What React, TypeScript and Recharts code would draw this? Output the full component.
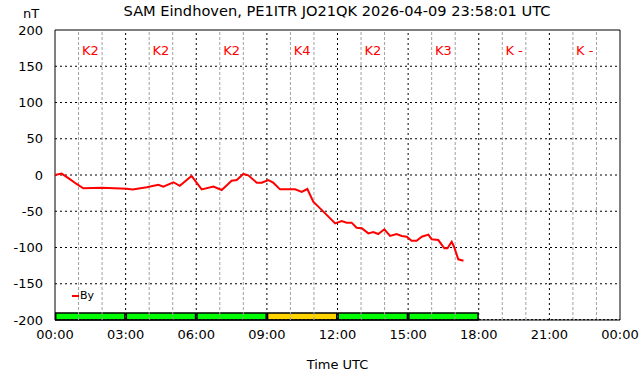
import { ComposedChart, Line, XAxis, YAxis, CartesianGrid, ReferenceLine, ReferenceArea, ReferenceDot } from 'recharts'

const hours = [
  0, 0.28, 0.6, 0.9, 1.2, 2.0, 3.04, 3.3, 3.9, 4.39, 4.6, 5.03, 5.3, 5.8, 6.23, 6.73, 7.08, 7.3, 7.5, 7.72,
  8.0, 8.21, 8.57, 8.78, 9.06, 9.27, 9.56, 9.98, 10.2, 10.48, 10.72, 10.97, 11.26, 11.54, 11.9, 12.18, 12.39,
  12.6, 12.81, 13.03, 13.31, 13.52, 13.73, 13.99, 14.23, 14.51, 14.73, 14.94, 15.15, 15.36, 15.58, 15.86, 16.0,
  16.28, 16.54, 16.67, 16.85, 16.95, 17.13, 17.35,
]
const byValues = [
  0, 2, -5, -12, -18.4, -17.5, -19, -20, -17, -13.4, -16, -10, -15, -1.4, -19.8, -16, -20.7, -14, -7.8, -7,
  1.4, -0.5, -10.6, -10.6, -7, -10.6, -19.8, -19.8, -19.8, -23.4, -19.3, -36.8, -46, -55, -66.7, -63.4, -65.7,
  -65.7, -72.7, -73.5, -80.5, -78.6, -81.4, -74.9, -84.1, -81.4, -84.1, -85.1, -90.6, -90.6, -85.1, -82.3, -88.7,
  -89.7, -101.1, -101.1, -92, -98.9, -116.3, -118.2,
]

// K index per 3 hour block
const kBlockStart = [0, 3, 6, 9, 12, 15, 18, 21]
const kLabels = ['K2', 'K2', 'K2', 'K4', 'K2', 'K3', 'K -', 'K -']
const kValues = [2, 2, 2, 4, 2, 3, null, null]

const xTicks = [0, 3, 6, 9, 12, 15, 18, 21, 24]
const xTickLabels = ['00:00', '03:00', '06:00', '09:00', '12:00', '15:00', '18:00', '21:00', '00:00']
const yTicks = [-200, -150, -100, -50, 0, 50, 100, 150, 200]
const hourLines = Array.from({ length: 23 }, (_, i) => i + 1)

const FONT = '"DejaVu Sans", sans-serif'

const data = hours.map((h, i) => ({ t: h, By: byValues[i] }))

function kColor(k: number) {
  return k >= 4 ? '#ffd400' : '#00ff00'
}

export default function App() {
  return (
    <div style={{ position: 'absolute', left: 0, top: 0, width: 642, height: 376, background: '#fff' }}>
      <div style={{ position: 'absolute', left: 0, width: 674, top: 2, textAlign: 'center', fontFamily: FONT, fontSize: 14.6 }}>
        SAM Eindhoven, PE1ITR JO21QK 2026-04-09 23:58:01 UTC
      </div>
      <div style={{ position: 'absolute', left: 23, top: 6, fontFamily: FONT, fontSize: 13 }}>nT</div>
      <div style={{ position: 'absolute', left: 72, top: 289, display: 'flex', alignItems: 'center', fontFamily: FONT, fontSize: 11, zIndex: 2 }}>
        <span style={{ display: 'inline-block', width: 7, height: 2, background: '#ff0000', marginRight: 1 }} />
        By
      </div>
      <ComposedChart width={642} height={376} data={data} margin={{ top: 30, right: 22, bottom: 0, left: 0 }}>
        <CartesianGrid vertical={false} stroke="#000" strokeDasharray="2 3" horizontalValues={[-150, -100, -50, 0, 50, 100, 150]} />
        {kBlockStart.map((s, i) =>
          kValues[i] === null ? null : (
            <ReferenceArea
              key={'k' + i}
              x1={s + 0.03}
              x2={s + 2.97}
              y1={-200}
              y2={-190.5}
              fill={kColor(kValues[i] as number)}
              fillOpacity={1}
              stroke="#000"
              strokeWidth={1.5}
            />
          ),
        )}
        {hourLines.map((h) => (
          <ReferenceLine
            key={h}
            x={h}
            stroke={h % 3 === 0 ? '#000' : '#a0a0a0'}
            strokeDasharray={h % 3 === 0 ? '2 3' : '3 2'}
          />
        ))}
        <ReferenceLine y={-199.5} stroke="#000" strokeDasharray="2 2" />
        <XAxis
          type="number"
          dataKey="t"
          domain={[0, 24]}
          ticks={xTicks}
          tickFormatter={(v: number) => xTickLabels[xTicks.indexOf(v)]}
          tickLine={false}
          axisLine={false}
          height={56}
          tickMargin={4}
          tick={{ fontSize: 13, fill: '#000', fontFamily: FONT }}
          label={{ value: 'Time UTC', position: 'insideBottom', offset: 7, fontSize: 13, fill: '#000', fontFamily: FONT }}
        />
        <YAxis
          type="number"
          domain={[-200, 200]}
          ticks={yTicks}
          tickLine={false}
          axisLine={false}
          width={55}
          tickMargin={6}
          tick={{ fontSize: 13, fill: '#000', fontFamily: FONT }}
        />
        {kBlockStart.map((s, i) => (
          <ReferenceDot
            key={'kl' + i}
            x={s + 1.5}
            y={172}
            r={0}
            fill="none"
            stroke="none"
            label={{ value: kLabels[i], fill: '#ff0000', fontSize: 13, fontFamily: FONT, position: 'center' }}
          />
        ))}
        <ReferenceArea x1={0} x2={24} y1={-200} y2={200} fill="none" stroke="#000" strokeWidth={1} />
        <Line
          type="linear"
          dataKey="By"
          stroke="#ff0000"
          strokeWidth={2}
          dot={false}
          isAnimationActive={false}
        />
      </ComposedChart>
    </div>
  )
}
